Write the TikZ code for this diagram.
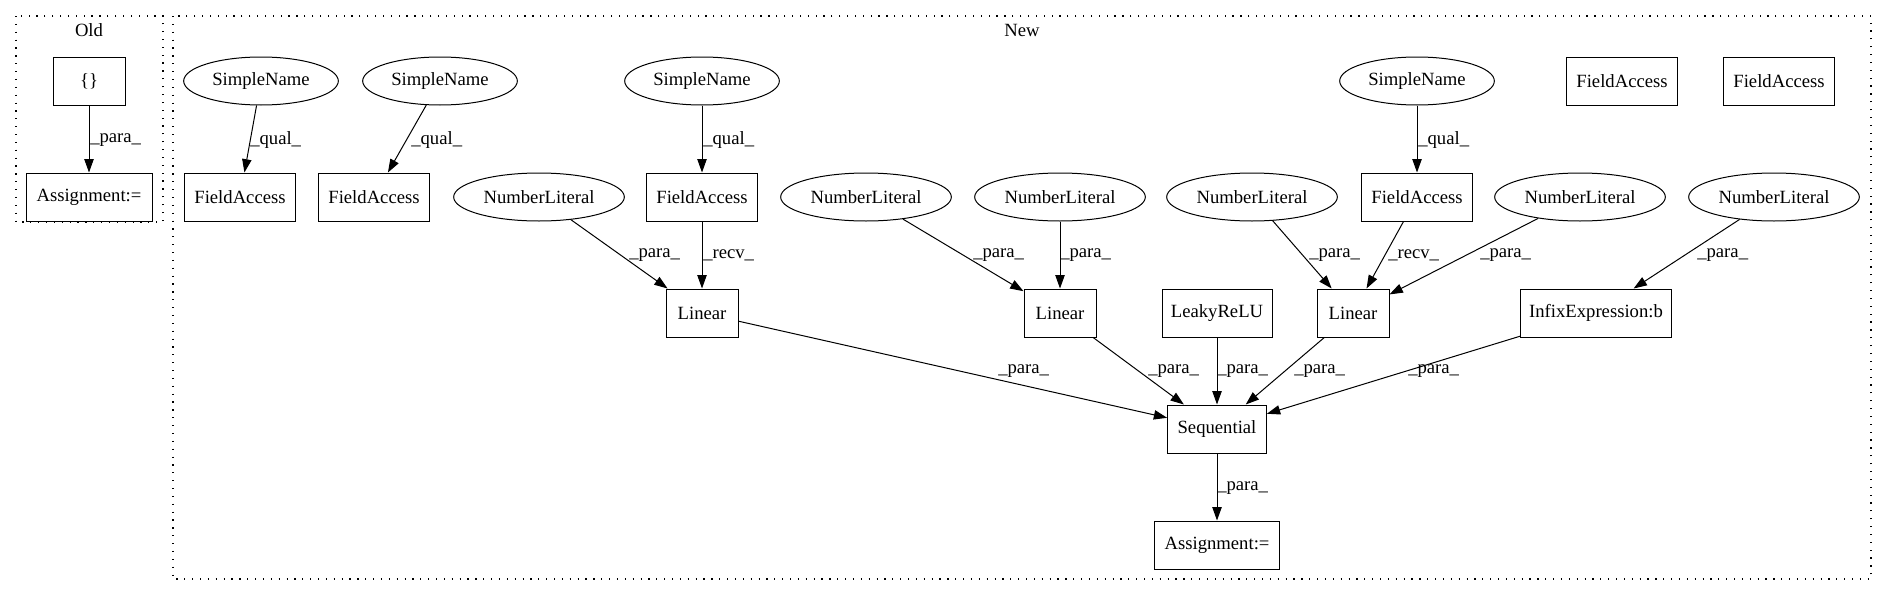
\documentclass[tikz,border=0pt]{standalone}
\usepackage{fontspec}
\setmainfont{Liberation Serif}
\usetikzlibrary{arrows.meta,shapes.geometric}
\begin{document}
\begin{tikzpicture}[x=0.75pt,y=-0.75pt,
  every node/.style={font=\fontsize{14}{16}\selectfont},
  box/.style={draw,line width=0.75pt,rectangle,minimum height=36pt,inner sep=0pt},
  oval/.style={draw,line width=0.75pt,ellipse,minimum height=36pt,inner sep=0pt},
  edge/.style={line width=0.75pt,-{Triangle[length=10pt,width=7pt]}},
  lbl/.style={anchor=west,inner sep=0pt},
  cluster/.style={line width=0.9pt,dash pattern=on 0.9pt off 5pt}]
\useasboundingbox (0,0) rectangle (1887,596);
% clusters
\draw[cluster] (16,16) rectangle (163,222);
\draw[cluster] (173,16) rectangle (1871,579);
\node (told) at (89,30) {Old};
\node (tnew) at (1022,30) {New};
% Old
\node[box,minimum width=54pt] (ob) at (89,81) {\{\}};
\node[box,minimum width=94.5pt] (oa) at (89,197) {Assignment:=};
% New, top row
\node[oval,minimum width=116pt] (sn1) at (261,81) {SimpleName};
\node[oval,minimum width=116pt] (sn2) at (440,81) {SimpleName};
\node[oval,minimum width=116pt] (sn3) at (702,81) {SimpleName};
\node[oval,minimum width=116pt] (sn4) at (1417,81) {SimpleName};
\node[box,minimum width=83pt] (fa5) at (1622,81) {FieldAccess};
\node[box,minimum width=83pt] (fa6) at (1779,81) {FieldAccess};
% second row
\node[box,minimum width=83pt] (fa1) at (240,197) {FieldAccess};
\node[box,minimum width=83pt] (fa2) at (374,197) {FieldAccess};
\node[box,minimum width=83pt] (fa3) at (702,197) {FieldAccess};
\node[box,minimum width=83pt] (fa4) at (1417,197) {FieldAccess};
\node[oval,minimum width=128pt] (nl1) at (539,197) {NumberLiteral};
\node[oval,minimum width=128pt] (nl2) at (866,197) {NumberLiteral};
\node[oval,minimum width=128pt] (nl3) at (1060,197) {NumberLiteral};
\node[oval,minimum width=128pt] (nl4) at (1252,197) {NumberLiteral};
\node[oval,minimum width=128pt] (nl5) at (1580,197) {NumberLiteral};
\node[oval,minimum width=128pt] (nl6) at (1774,197) {NumberLiteral};
% third row
\node[box,minimum width=54pt] (lin1) at (702,313) {Linear};
\node[box,minimum width=54pt] (lin2) at (1060,313) {Linear};
\node[box,minimum width=82.5pt] (leaky) at (1217,313) {LeakyReLU};
\node[box,minimum width=54pt] (lin3) at (1353,313) {Linear};
\node[box,minimum width=113pt] (infix) at (1596,313) {InfixExpression:b};
% bottom
\node[box,minimum width=74pt] (seq) at (1217,429) {Sequential};
\node[box,minimum width=94pt] (asg) at (1217,545) {Assignment:=};
% edges
\draw[edge] (ob) -- (oa);
\node[lbl] (l0) at (90,140) {\_para\_};
\draw[edge] (sn1) -- (fa1);
\node[lbl] (l1) at (250,140) {\_qual\_};
\draw[edge] (sn2) -- (fa2);
\node[lbl] (l2) at (411,140) {\_qual\_};
\draw[edge] (sn3) -- (fa3);
\node[lbl] (l3) at (703,140) {\_qual\_};
\draw[edge] (sn4) -- (fa4);
\node[lbl] (l4) at (1418,140) {\_qual\_};
\draw[edge] (nl1) -- (lin1);
\node[lbl] (l5) at (629,255) {\_para\_};
\draw[edge] (fa3) -- (lin1);
\node[lbl] (l6) at (703,255) {\_recv\_};
\draw[edge] (nl2) -- (lin2);
\node[lbl] (l7) at (973,255) {\_para\_};
\draw[edge] (nl3) -- (lin2);
\node[lbl] (l8) at (1060,255) {\_para\_};
\draw[edge] (nl4) -- (lin3);
\node[lbl] (l9) at (1309,255) {\_para\_};
\draw[edge] (fa4) -- (lin3);
\node[lbl] (l10) at (1388,255) {\_recv\_};
\draw[edge] (nl5) -- (lin3);
\node[lbl] (l11) at (1480,255) {\_para\_};
\draw[edge] (nl6) -- (infix);
\node[lbl] (l12) at (1697,255) {\_para\_};
\draw[edge] (lin1) -- (seq);
\node[lbl] (l13) at (998,371) {\_para\_};
\draw[edge] (lin2) -- (seq);
\node[lbl] (l14) at (1148,371) {\_para\_};
\draw[edge] (leaky) -- (seq);
\node[lbl] (l15) at (1217,371) {\_para\_};
\draw[edge] (lin3) -- (seq);
\node[lbl] (l16) at (1294,371) {\_para\_};
\draw[edge] (infix) -- (seq);
\node[lbl] (l17) at (1408,371) {\_para\_};
\draw[edge] (seq) -- (asg);
\node[lbl] (l18) at (1217,488) {\_para\_};
\end{tikzpicture}
\end{document}
